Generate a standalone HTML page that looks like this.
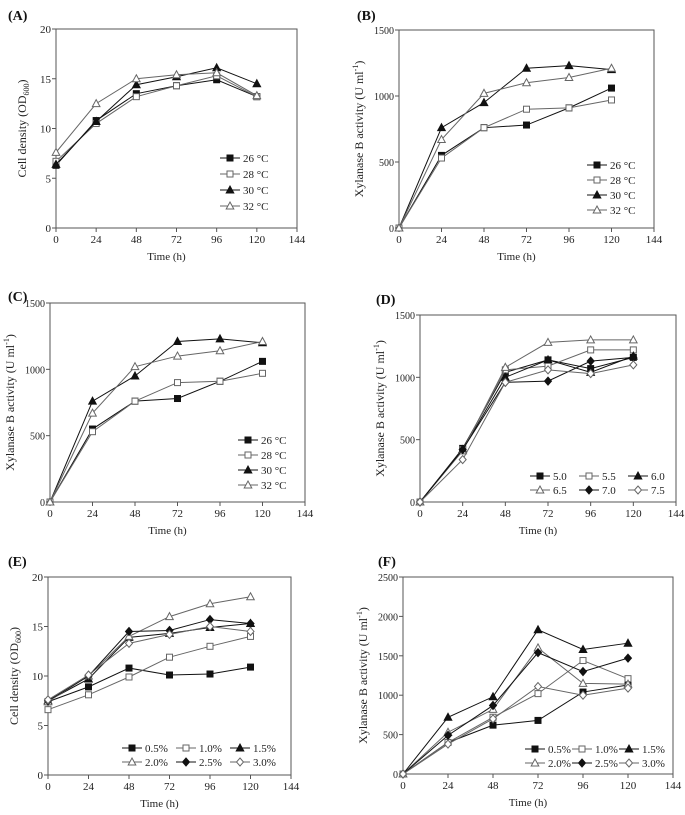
<!DOCTYPE html>
<html><head><meta charset="utf-8"><style>
html,body{margin:0;padding:0;background:#fff;}
svg{display:block;font-family:"Liberation Serif",serif;}
</style></head><body>
<svg id="fig" width="685" height="815" viewBox="0 0 685 815"></svg>
<script>
const timeCats=[0,24,48,72,96,120];
const xTicks=[0,24,48,72,96,120,144];
const odTicks=[0,5,10,15,20];
const act1500Ticks=[0,500,1000,1500];
const act2500Ticks=[0,500,1000,1500,2000,2500];
const tempLabels=["26 °C","28 °C","30 °C","32 °C"];
const phLabels=["5.0","5.5","6.0","6.5","7.0","7.5"];
const concLabels=["0.5%","1.0%","1.5%","2.0%","2.5%","3.0%"];
const aT26=[6.3,10.8,13.5,14.3,14.9,13.2];
const aT28=[6.7,10.5,13.2,14.3,15.3,13.2];
const aT30=[6.4,10.7,14.4,15.2,16.1,14.5];
const aT32=[7.6,12.5,15.0,15.4,15.6,13.3];
const bT26=[0,550,760,780,910,1060];
const bT28=[0,530,760,900,910,970];
const bT30=[0,760,950,1210,1230,1200];
const bT32=[0,670,1020,1100,1140,1210];
const dP50=[0,430,1040,1140,1070,1160];
const dP55=[0,420,1060,1090,1220,1220];
const dP60=[0,420,1000,1140,1040,1170];
const dP65=[0,410,1080,1280,1300,1300];
const dP70=[0,420,960,970,1130,1160];
const dP75=[0,340,960,1060,1030,1100];
const eC05=[7.4,8.9,10.8,10.1,10.2,10.9];
const eC10=[6.6,8.1,9.9,11.9,13.0,14.0];
const eC15=[7.5,9.7,13.9,14.3,14.9,15.3];
const eC20=[7.4,10.0,14.0,16.0,17.3,18.0];
const eC25=[7.5,10.0,14.5,14.6,15.7,15.3];
const eC30=[7.6,10.1,13.3,14.2,15.0,14.5];
const fC05=[0,400,620,680,1040,1130];
const fC10=[0,400,720,1020,1440,1210];
const fC15=[0,720,980,1830,1580,1660];
const fC20=[0,530,820,1600,1150,1140];
const fC25=[0,490,870,1540,1300,1470];
const fC30=[0,380,700,1110,1000,1090];

const NS="http://www.w3.org/2000/svg";
const svg=document.getElementById('fig');
function mk(tag,attrs,parent){const e=document.createElementNS(NS,tag);for(const k in attrs)e.setAttribute(k,attrs[k]);(parent||svg).appendChild(e);return e;}
function marker(g,kind,x,y,col){
  const filled=kind%2===0;const fill=filled?'#111':'#fff';let m;
  const t=Math.floor(kind/2);
  if(t===0)m=mk('rect',{x:x-3,y:y-3,width:6,height:6,fill:fill,stroke:col,'stroke-width':1},g);
  else if(t===1)m=mk('polygon',{points:`${x},${y-4} ${x+3.8},${y+3} ${x-3.8},${y+3}`,fill:fill,stroke:col,'stroke-width':1},g);
  else m=mk('polygon',{points:`${x},${y-4} ${x+3.5},${y} ${x},${y+4} ${x-3.5},${y}`,fill:fill,stroke:col,'stroke-width':1},g);
  return m;
}
const panels=[
 {name:'a',label:'(A)',lx:8,ly:20,x0:56,x1:297,yt:29,yb:228,ymax:20,yticks:odTicks,ytitle:'od',series:[aT26,aT28,aT30,aT32],kinds:[0,1,2,3],labels:tempLabels,leg:{x:220,y:158,cols:1,dy:16,dx:0}},
 {name:'b',label:'(B)',lx:357,ly:20,x0:399,x1:654,yt:30,yb:228,ymax:1500,yticks:act1500Ticks,ytitle:'act',series:[bT26,bT28,bT30,bT32],kinds:[0,1,2,3],labels:tempLabels,leg:{x:587,y:165,cols:1,dy:15,dx:0}},
 {name:'c',label:'(C)',lx:8,ly:301,x0:50,x1:305,yt:303,yb:502,ymax:1500,yticks:act1500Ticks,ytitle:'act',series:[bT26,bT28,bT30,bT32],kinds:[0,1,2,3],labels:tempLabels,leg:{x:238,y:440,cols:1,dy:15,dx:0}},
 {name:'d',label:'(D)',lx:376,ly:304,x0:420,x1:676,yt:315,yb:502,ymax:1500,yticks:act1500Ticks,ytitle:'act',series:[dP50,dP55,dP60,dP65,dP70,dP75],kinds:[0,1,2,3,4,5],labels:phLabels,leg:{x:530,y:476,cols:3,dy:14,dx:49}},
 {name:'e',label:'(E)',lx:8,ly:566,x0:48,x1:291,yt:577,yb:775,ymax:20,yticks:odTicks,ytitle:'od',series:[eC05,eC10,eC15,eC20,eC25,eC30],kinds:[0,1,2,3,4,5],labels:concLabels,leg:{x:122,y:748,cols:3,dy:14,dx:54}},
 {name:'f',label:'(F)',lx:378,ly:566,x0:403,x1:673,yt:577,yb:774,ymax:2500,yticks:act2500Ticks,ytitle:'act',series:[fC05,fC10,fC15,fC20,fC25,fC30],kinds:[0,1,2,3,4,5],labels:concLabels,leg:{x:525,y:749,cols:3,dy:14,dx:47}}
];
const cols=['#111','#666','#111','#666','#111','#666'];
panels.forEach(p=>{
  const g=mk('g',{});
  
  
  const xs=v=>p.x0+(v/144)*(p.x1-p.x0);
  const ys=v=>p.yb-(v/p.ymax)*(p.yb-p.yt);
  const lab=mk('text',{x:p.lx,y:p.ly,'font-size':14,'font-weight':'bold',fill:'#111'},g);lab.textContent=p.label;
  
  
  const frame=mk('rect',{x:p.x0,y:p.yt,width:p.x1-p.x0,height:p.yb-p.yt,fill:'none',stroke:'#555','stroke-width':1},g);
  
  
  xTicks.forEach(t=>{const x=xs(t);mk('line',{x1:x,y1:p.yb,x2:x,y2:p.yb+4,stroke:'#555'},g);
    const tx=mk('text',{x:x,y:p.yb+15,'font-size':11,'text-anchor':'middle',fill:'#222'},g);tx.textContent=t;
    
    });
  p.yticks.forEach(t=>{const y=ys(t);mk('line',{x1:p.x0-4,y1:y,x2:p.x0,y2:y,stroke:'#555'},g);
    const tx=mk('text',{x:p.x0-5,y:y+4,'font-size':p.ymax===20?11:10,'text-anchor':'end',fill:'#222'},g);tx.textContent=t;
    
    });
  const xt=mk('text',{x:(p.x0+p.x1)/2-10,y:p.yb+32,'font-size':11,'text-anchor':'middle',fill:'#222'},g);xt.textContent='Time (h)';
  
  
  const yt=mk('text',{transform:`translate(${p.x0-(p.ymax===20?30:36)},${(p.yt+p.yb)/2}) rotate(-90)`,'font-size':12,'text-anchor':'middle',fill:'#222'},g);
  
  
  if(p.ytitle==='od'){yt.innerHTML='Cell density (OD<tspan font-size="8" dy="3">600</tspan><tspan dy="-3">)</tspan>';}
  else{yt.innerHTML='Xylanase B activity (U ml<tspan font-size="8" dy="-5">-1</tspan><tspan dy="5">)</tspan>';}
  p.series.forEach((s,i)=>{
    const sg=mk('g',{},g);
    
    
    const pts=s.map((v,j)=>xs(timeCats[j])+','+ys(v)).join(' ');
    mk('polyline',{points:pts,fill:'none',stroke:cols[i],'stroke-width':1},sg);
    s.forEach((v,j)=>{const m=marker(sg,p.kinds[i],xs(timeCats[j]),ys(v),cols[i]);
      
      });
  });
  const L=p.leg;
  p.labels.forEach((l,i)=>{
    const c=i%L.cols,r=Math.floor(i/L.cols);
    const lx=L.x+c*L.dx,ly=L.y+r*L.dy;
    const lg=mk('g',{},g);
    
    
    mk('line',{x1:lx,y1:ly,x2:lx+20,y2:ly,stroke:cols[i]},lg);
    marker(lg,p.kinds[i],lx+10,ly,cols[i]);
    const t=mk('text',{x:lx+23,y:ly+4,'font-size':11,fill:'#222'},lg);t.textContent=l;
  });
});
</script>
</body></html>
